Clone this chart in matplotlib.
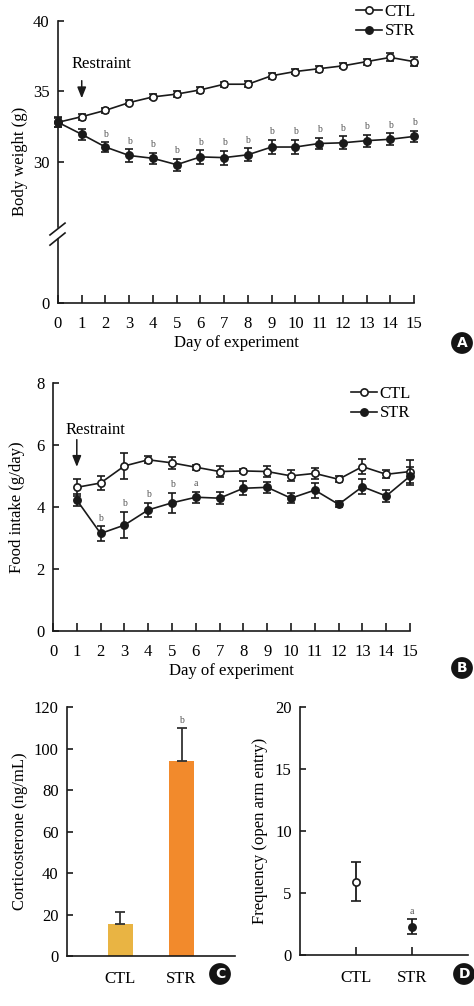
import matplotlib
matplotlib.use('Agg')
import matplotlib.pyplot as plt
import numpy as np
from matplotlib.lines import Line2D

plt.rcParams['font.family'] = ['Liberation Serif', 'DejaVu Serif']
plt.rcParams['font.size'] = 12

# ---------------- data ----------------
days = list(range(16))
bw_ctl = [32.8, 33.2, 33.65, 34.2, 34.6, 34.8, 35.1, 35.5, 35.5, 36.1, 36.4, 36.6, 36.8, 37.1, 37.4, 37.1]
bw_ctl_err = [0.3, 0.22, 0.2, 0.2, 0.18, 0.2, 0.2, 0.18, 0.22, 0.22, 0.2, 0.2, 0.18, 0.22, 0.28, 0.3]
bw_str = [32.8, 31.95, 31.05, 30.45, 30.25, 29.8, 30.35, 30.3, 30.5, 31.05, 31.05, 31.3, 31.35, 31.5, 31.6, 31.8]
bw_str_err = [0.35, 0.4, 0.35, 0.45, 0.4, 0.43, 0.47, 0.5, 0.45, 0.5, 0.5, 0.41, 0.47, 0.43, 0.43, 0.42]
bw_sig = ['', '', 'b', 'b', 'b', 'b', 'b', 'b', 'b', 'b', 'b', 'b', 'b', 'b', 'b', 'b']

fi_days = list(range(1, 16))
fi_ctl = [4.64, 4.78, 5.33, 5.53, 5.43, 5.29, 5.15, 5.17, 5.15, 5.01, 5.09, 4.9, 5.31, 5.06, 5.15]
fi_ctl_err = [0.27, 0.22, 0.43, 0.11, 0.19, 0.08, 0.17, 0.07, 0.17, 0.18, 0.18, 0.1, 0.24, 0.13, 0.38]
fi_str = [4.23, 3.15, 3.42, 3.91, 4.14, 4.32, 4.29, 4.61, 4.64, 4.29, 4.55, 4.09, 4.66, 4.36, 5.0]
fi_str_err = [0.19, 0.23, 0.43, 0.23, 0.32, 0.18, 0.19, 0.23, 0.18, 0.16, 0.24, 0.1, 0.24, 0.2, 0.3]
fi_sig = ['', 'b', 'b', 'b', 'b', 'a', '', '', '', '', '', '', '', '', '']

groups = ['CTL', 'STR']
cort = [15.3, 93.9]
cort_err = [5.8, 16.0]
cort_sig = ['', 'b']
cort_colors = ['#E9B443', '#F28A2C']

freq = [5.92, 2.29]
freq_err = [1.55, 0.6]
freq_sig = ['', 'a']

W, H = 474, 1006
fig = plt.figure(figsize=(W / 100, H / 100), dpi=100)

def frac(l, t, r, b):
    return [l / W, 1 - b / H, (r - l) / W, (b - t) / H]

LC = '#1a1a1a'
SIGC = '#555555'
FS = 12

def style_axes(ax):
    for s in ['top', 'right']:
        ax.spines[s].set_visible(False)
    for s in ['left', 'bottom']:
        ax.spines[s].set_linewidth(1.2)
        ax.spines[s].set_color(LC)
    ax.tick_params(axis='both', direction='in', width=1.2, color=LC, labelsize=FS)
    ax.tick_params(axis='y', length=4, pad=6)
    ax.tick_params(axis='x', length=6, pad=9)

def line_series(ax, x, y, e, filled):
    ax.errorbar(x, y, yerr=e, fmt='-o', color=LC, lw=1.2, elinewidth=1.2,
                capsize=3.2, capthick=1.2, markersize=5.2, markeredgewidth=1.2,
                markerfacecolor=(LC if filled else 'white'), markeredgecolor=LC,
                clip_on=False, zorder=3 if filled else 2)

def sig_labels(ax, x, y, e, labs):
    for xi, yi, ei, s in zip(x, y, e, labs):
        if s:
            ax.annotate(s, (xi, yi + ei), xytext=(0, 2.5), textcoords='offset points',
                        ha='center', va='bottom', fontsize=7, color=SIGC)

def legend_handles():
    return [Line2D([], [], color=LC, lw=1.2, marker='o', markersize=5.2, markeredgewidth=1.2,
                   markerfacecolor='white', markeredgecolor=LC),
            Line2D([], [], color=LC, lw=1.2, marker='o', markersize=5.2, markeredgewidth=1.2,
                   markerfacecolor=LC, markeredgecolor=LC)]

def add_legend(ax, x_right, y_top):
    ax.legend(legend_handles(), groups, loc='upper right',
              bbox_to_anchor=(x_right / W, 1 - y_top / H),
              bbox_transform=fig.transFigure, frameon=False, fontsize=FS,
              handlelength=1.6, handletextpad=0.15, labelspacing=0.2, borderpad=0.0,
              borderaxespad=0.0)

def restraint(ax, tx, ty, y0, y1):
    ax.text(tx, ty, 'Restraint', ha='center', va='bottom', fontsize=FS)
    ax.annotate('', xy=(1, y1), xytext=(1, y0),
                arrowprops=dict(arrowstyle='-|>,head_length=0.55,head_width=0.22',
                                color=LC, lw=1.1, shrinkA=0, shrinkB=0))

# ---------------- Panel A ----------------
axA = fig.add_axes(frac(58, 20.7, 414, 303))
def fwd(y):
    y = np.asarray(y, float)
    return np.where(y < 25, y / 5.0, y - 20.0)
def inv(t):
    t = np.asarray(t, float)
    return np.where(t < 5, t * 5.0, t + 20.0)
axA.set_yscale('function', functions=(fwd, inv))
style_axes(axA)
line_series(axA, days, bw_ctl, bw_ctl_err, False)
line_series(axA, days, bw_str, bw_str_err, True)
sig_labels(axA, days, bw_str, bw_str_err, bw_sig)
axA.set_xlim(0, 15)
axA.set_ylim(0, 40)
axA.set_xticks(days)
axA.set_yticks([0, 30, 35, 40])
axA.yaxis.set_minor_locator(matplotlib.ticker.NullLocator())
axA.set_xlabel('Day of experiment', fontsize=FS)
axA.set_ylabel('Body weight (g)', fontsize=FS)
axA.xaxis.set_label_coords(0.5, -0.113)
axA.yaxis.set_label_coords(-0.084, 0.5)
restraint(axA, 1.85, 36.38, 35.75, 34.5)
add_legend(axA, 416, 4)
# broken axis
axA.spines['left'].set_visible(False)
tr = axA.transAxes
axA.plot([0, 0], [0, 0.225], color=LC, lw=1.2, transform=tr, clip_on=False)
axA.plot([0, 0], [0.27, 1], color=LC, lw=1.2, transform=tr, clip_on=False)
axA.plot([-0.0225, 0.0197], [0.241, 0.283], color=LC, lw=1.2, transform=tr, clip_on=False)
axA.plot([-0.0225, 0.0197], [0.205, 0.248], color=LC, lw=1.2, transform=tr, clip_on=False)

# ---------------- Panel B ----------------
axB = fig.add_axes(frac(53, 383.3, 410, 631))
style_axes(axB)
line_series(axB, fi_days, fi_ctl, fi_ctl_err, False)
line_series(axB, fi_days, fi_str, fi_str_err, True)
sig_labels(axB, fi_days, fi_str, fi_str_err, fi_sig)
axB.set_xlim(0, 15)
axB.set_ylim(0, 8)
axB.set_xticks(days)
axB.set_yticks([0, 2, 4, 6, 8])
axB.set_xlabel('Day of experiment', fontsize=FS)
axB.set_ylabel('Food intake (g/day)', fontsize=FS)
axB.xaxis.set_label_coords(0.5, -0.13)
axB.yaxis.set_label_coords(-0.078, 0.5)
restraint(axB, 1.78, 6.22, 6.18, 5.3)
add_legend(axB, 411, 386)

# ---------------- Panel C ----------------
axC = fig.add_axes(frac(67, 707.3, 235, 956))
style_axes(axC)
xc = np.arange(len(groups))
axC.bar(xc, cort, width=0.41, color=cort_colors, zorder=2)
for xi, v, e in zip(xc, cort, cort_err):
    axC.errorbar(xi, v, yerr=[[0], [e]], fmt='none', ecolor='#333333', elinewidth=1.3,
                 capsize=3.5, capthick=1.3, zorder=3)
sig_labels(axC, xc, cort, cort_err, cort_sig)
axC.set_xlim(-0.877, 1.877)
axC.set_ylim(0, 120)
axC.set_yticks(range(0, 121, 20))
axC.set_xticks(xc)
axC.set_xticklabels(groups)
axC.tick_params(axis='x', length=0, pad=11)
axC.set_ylabel('Corticosterone (ng/mL)', fontsize=FS)
axC.yaxis.set_label_coords(-0.232, 0.5)

# ---------------- Panel D ----------------
axD = fig.add_axes(frac(300, 707.3, 468, 955))
style_axes(axD)
xd = np.arange(len(groups))
for xi, v, e, f in zip(xd, freq, freq_err, [False, True]):
    axD.errorbar(xi, v, yerr=e, fmt='o', color=LC, elinewidth=1.3, capsize=3.5, capthick=1.3,
                 markersize=5.2, markeredgewidth=1.2,
                 markerfacecolor=(LC if f else 'white'), markeredgecolor=LC)
sig_labels(axD, xd, freq, freq_err, freq_sig)
axD.set_xlim(-1.0, 2.0)
axD.set_ylim(0, 20)
axD.set_yticks([0, 5, 10, 15, 20])
axD.set_xticks(xd)
axD.set_xticklabels(groups)
axD.tick_params(axis='x', length=6, pad=11)
axD.set_ylabel('Frequency (open arm entry)', fontsize=FS)
axD.yaxis.set_label_coords(-0.19, 0.5)

# ---------------- panel badges ----------------
for lab, px, py in [('A', 462, 343), ('B', 462, 668), ('C', 220, 974), ('D', 464, 974)]:
    fig.text(px / W, 1 - py / H, lab, ha='center', va='center', color='white',
             fontweight='bold', fontsize=10, family='DejaVu Sans',
             bbox=dict(boxstyle='circle,pad=0.28', fc='#141414', ec='none'))

fig.savefig('out.png', dpi=100)
